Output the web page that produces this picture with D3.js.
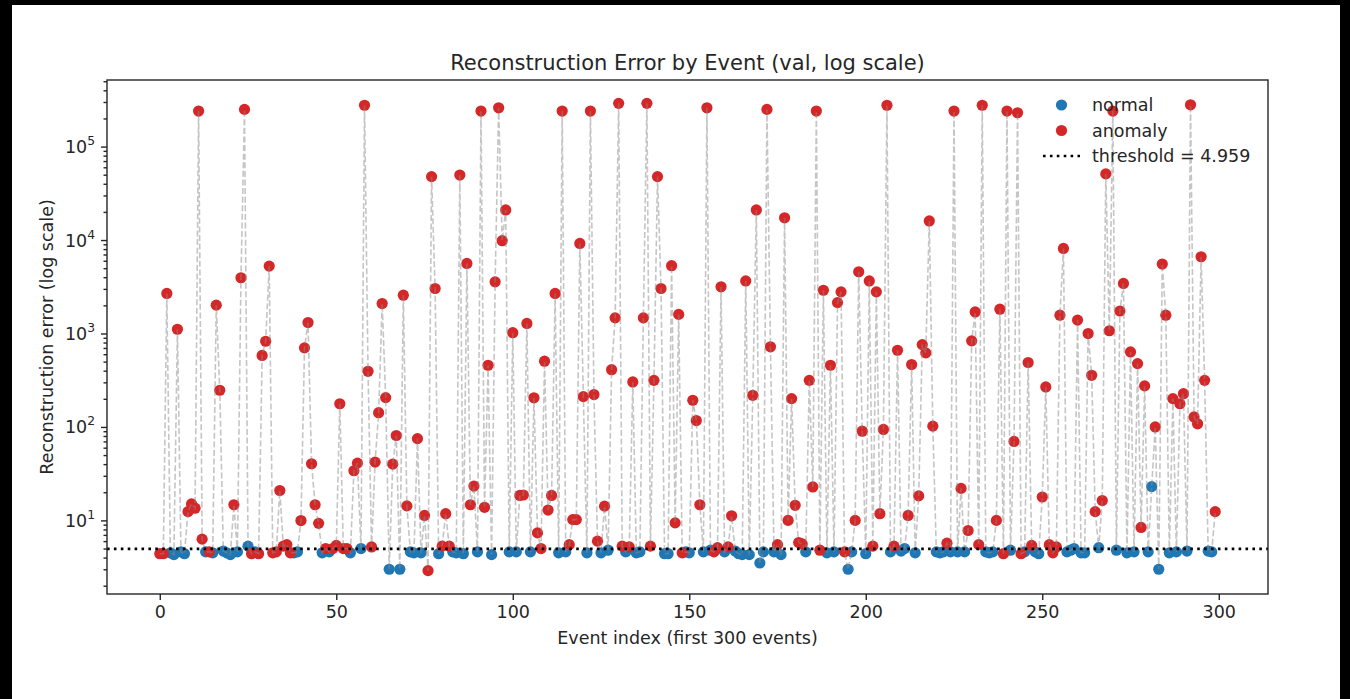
<!DOCTYPE html>
<html>
<head>
<meta charset="utf-8">
<script src="https://cdn.jsdelivr.net/npm/d3@7/dist/d3.min.js"></script>
<style>
    body { margin: 0; background: #000; }
    svg { display: block; }
    text { font-family: "DejaVu Sans", sans-serif; fill: #262626; }
</style>
</head>
<body>
<div id="chart"></div>
<script>
// reconstruction error per event (first 300 events)
var recon_error = [
    4.4, 4.4, 2680, 4.5, 4.3, 1110, 4.6, 4.4, 12.4, 15,
    13.5, 240000, 6.3, 4.6, 4.6, 4.5, 2010, 247, 4.7, 4.5,
    4.3, 14.7, 4.6, 3950, 250000, 5.3, 4.4, 4.6, 4.4, 582,
    826, 5260, 4.5, 4.6, 20.9, 5.3, 5.5, 4.5, 4.5, 4.6,
    9.96, 702, 1310, 40.4, 14.7, 9.3, 4.5, 5.0, 4.6, 5.0,
    5.4, 177, 5.0, 5.0, 4.5, 34, 41, 5.0, 277000, 394,
    5.2, 42, 142, 2090, 206, 3.0, 40, 81, 3.0, 2570,
    14.3, 4.6, 4.5, 75, 4.5, 11.3, 2.9, 47700, 3030, 4.4,
    5.3, 11.8, 5.3, 4.6, 4.5, 49600, 4.4, 5620, 14.7, 23.3,
    4.6, 240000, 13.8, 457, 4.3, 3570, 260000, 9840, 21000, 4.6,
    1020, 4.6, 18.5, 18.7, 1280, 4.6, 205, 7.35, 5.0, 505,
    12.9, 18.5, 2680, 4.5, 240000, 4.6, 5.5, 10.2, 10.2, 9200,
    211, 4.5, 240000, 222, 6.0, 4.5, 14.2, 4.8, 410, 1470,
    290000, 5.3, 4.6, 5.2, 303, 4.5, 4.6, 1470, 290000, 5.3,
    315, 47700, 3030, 4.4, 4.4, 5310, 9.4, 1600, 4.5, 4.6,
    4.5, 193, 117, 14.7, 4.6, 260000, 4.8, 4.6, 5.1, 3160,
    4.6, 5.2, 11.2, 4.7, 4.4, 4.3, 3650, 4.3, 218, 21000,
    3.5, 4.6, 250000, 720, 4.6, 5.5, 4.3, 17300, 10, 201,
    14.5, 5.8, 5.6, 4.6, 315, 22.8, 240000, 4.8, 2900, 4.5,
    457, 4.6, 2140, 2790, 4.6, 3.0, 4.6, 10, 4580, 90,
    4.4, 3650, 5.3, 2790, 11.8, 94, 277000, 4.6, 5.3, 662,
    4.7, 5.0, 11.3, 465, 4.5, 18.3, 760, 620, 16000, 102,
    4.6, 4.5, 4.6, 5.7, 4.6, 240000, 4.6, 22, 4.6, 7.8,
    834, 1700, 5.5, 277000, 4.6, 4.5, 4.6, 10, 1820, 4.4,
    240000, 4.8, 70, 230000, 4.4, 4.6, 489, 5.4, 4.6, 4.4,
    17.8, 268, 5.5, 4.5, 5.2, 1570, 8130, 4.6, 4.8, 5.0,
    1390, 4.5, 4.5, 998, 357, 12.4, 5.1, 16.3, 51000, 1070,
    240000, 4.8, 1740, 3430, 4.5, 635, 4.6, 476, 8.4, 275,
    4.6, 23, 100, 3.0, 5530, 1570, 4.5, 201, 4.6, 177,
    227, 4.7, 280000, 128, 108, 6620, 315, 4.7, 4.6, 12.4
];

// 1 = anomaly (red), 0 = normal (blue)
var is_anomaly = [
    1, 1, 1, 0, 0, 1, 0, 0, 1, 1,
    1, 1, 1, 0, 1, 0, 1, 1, 0, 0,
    0, 1, 0, 1, 1, 0, 1, 0, 1, 1,
    1, 1, 1, 1, 1, 1, 1, 1, 0, 0,
    1, 1, 1, 1, 1, 1, 0, 1, 0, 1,
    1, 1, 1, 1, 0, 1, 1, 0, 1, 1,
    1, 1, 1, 1, 1, 0, 1, 1, 0, 1,
    1, 0, 0, 1, 0, 1, 1, 1, 1, 0,
    1, 1, 1, 0, 0, 1, 0, 1, 1, 1,
    0, 1, 1, 1, 0, 1, 1, 1, 1, 0,
    1, 0, 1, 1, 1, 0, 1, 1, 1, 1,
    1, 1, 1, 0, 1, 0, 1, 1, 1, 1,
    1, 0, 1, 1, 1, 0, 1, 0, 1, 1,
    1, 1, 0, 1, 1, 0, 0, 1, 1, 1,
    1, 1, 1, 0, 0, 1, 1, 1, 1, 0,
    0, 1, 1, 1, 0, 1, 0, 1, 1, 1,
    0, 1, 1, 0, 0, 0, 1, 0, 1, 1,
    0, 0, 1, 1, 0, 1, 0, 1, 1, 1,
    1, 1, 1, 0, 1, 1, 1, 1, 1, 0,
    1, 0, 1, 1, 1, 0, 0, 1, 1, 1,
    0, 1, 1, 1, 1, 1, 1, 0, 1, 1,
    0, 0, 1, 1, 0, 1, 1, 1, 1, 1,
    0, 0, 0, 1, 0, 1, 0, 1, 0, 1,
    1, 1, 1, 1, 0, 0, 0, 1, 1, 1,
    1, 0, 1, 1, 1, 0, 1, 1, 0, 0,
    1, 1, 1, 1, 1, 1, 1, 0, 0, 0,
    1, 0, 0, 1, 1, 1, 0, 1, 1, 1,
    1, 0, 1, 1, 0, 1, 0, 1, 1, 1,
    0, 0, 1, 0, 1, 1, 0, 1, 0, 1,
    1, 0, 1, 1, 1, 1, 1, 0, 0, 1
];

var threshold = 4.959;
var x_ticks = [0, 50, 100, 150, 200, 250, 300];
var y_ticks = [10, 100, 1000, 10000, 100000];
var legend_labels = ["normal", "anomaly", "threshold = 4.959"];

var colors = { normal: "#1f77b4", anomaly: "#d62728" };

var width = 1350;
var height = 699;
var plot = { left: 107, top: 80, right: 1268, bottom: 594 };
var marker_radius = 5.6;

var events = recon_error.map(function (value, index) {
    return { index: index, value: value, anomaly: is_anomaly[index] === 1 };
});

var svg = d3.select("#chart").append("svg")
            .attr("width", width)
            .attr("height", height);

// white figure area inside the black frame of the screenshot
svg.append("rect")
   .attr("x", 12).attr("y", 5)
   .attr("width", 1328).attr("height", height - 5)
   .attr("fill", "#fff");

// matplotlib style 5% margins (log space on y)
var n = recon_error.length;
var x_margin = (n - 1) * 0.05;
var x = d3.scaleLinear()
          .domain([-x_margin, n - 1 + x_margin])
          .range([plot.left, plot.right]);

var log_min = Math.log10(d3.min(recon_error));
var log_max = Math.log10(d3.max(recon_error));
var log_pad = (log_max - log_min) * 0.05;
var y = d3.scaleLog()
          .domain([Math.pow(10, log_min - log_pad), Math.pow(10, log_max + log_pad)])
          .range([plot.bottom, plot.top]);

svg.append("clipPath").attr("id", "plot-clip")
   .append("rect")
   .attr("x", plot.left).attr("y", plot.top)
   .attr("width", plot.right - plot.left)
   .attr("height", plot.bottom - plot.top);

var plot_layer = svg.append("g").attr("clip-path", "url(#plot-clip)");

// scatter (drawn below the line, as in matplotlib zorder)
plot_layer.selectAll("circle.normal")
          .data(events.filter(function (d) { return !d.anomaly; }))
          .enter().append("circle")
          .attr("class", "normal")
          .attr("cx", function (d) { return x(d.index); })
          .attr("cy", function (d) { return y(d.value); })
          .attr("r", marker_radius)
          .attr("fill", colors.normal);

plot_layer.selectAll("circle.anomaly")
          .data(events.filter(function (d) { return d.anomaly; }))
          .enter().append("circle")
          .attr("class", "anomaly")
          .attr("cx", function (d) { return x(d.index); })
          .attr("cy", function (d) { return y(d.value); })
          .attr("r", marker_radius)
          .attr("fill", colors.anomaly);

var line = d3.line()
             .x(function (d) { return x(d.index); })
             .y(function (d) { return y(d.value); });

plot_layer.append("path")
          .datum(events)
          .attr("d", line)
          .attr("fill", "none")
          .attr("stroke", "#8c8c8c")
          .attr("stroke-opacity", 0.5)
          .attr("stroke-width", 1.6)
          .attr("stroke-dasharray", "6,2.6");

plot_layer.append("line")
          .attr("x1", plot.left).attr("x2", plot.right)
          .attr("y1", y(threshold)).attr("y2", y(threshold))
          .attr("stroke", "#000")
          .attr("stroke-width", 2.6)
          .attr("stroke-dasharray", "2.6,4.3");

// axes
var x_axis = d3.axisBottom(x)
               .tickValues(x_ticks)
               .tickSize(6)
               .tickPadding(6)
               .tickFormat(d3.format("d"));

var gx = svg.append("g")
            .attr("transform", "translate(0," + plot.bottom + ")")
            .call(x_axis);

var minor_ticks = [];
for (var p = 0; p <= 5; p++) {
    for (var k = 2; k <= 9; k++) {
        var v = k * Math.pow(10, p);
        if (v >= y.domain()[0] && v <= y.domain()[1]) {
            minor_ticks.push(v);
        }
    }
}

var gy_minor = svg.append("g")
                  .attr("transform", "translate(" + plot.left + ",0)")
                  .call(d3.axisLeft(y).tickValues(minor_ticks).tickSize(3.5).tickFormat(""));

var gy = svg.append("g")
            .attr("transform", "translate(" + plot.left + ",0)")
            .call(d3.axisLeft(y).tickValues(y_ticks).tickSize(6).tickPadding(6).tickFormat(""));

[gx, gy, gy_minor].forEach(function (g) {
    g.select(".domain").remove();
    g.selectAll(".tick line").attr("stroke", "#262626").attr("stroke-width", 1.4);
});

gx.selectAll(".tick text")
  .attr("font-size", 17.5)
  .attr("fill", "#262626")
  .style("font-family", "DejaVu Sans, sans-serif");

// 10^n labels with superscript exponent
gy.selectAll(".tick").each(function (d) {
    var label = d3.select(this).append("text")
                  .attr("x", -12)
                  .attr("y", 6)
                  .attr("text-anchor", "end")
                  .attr("font-size", 17.5);
    label.append("tspan").text("10");
    label.append("tspan")
         .attr("font-size", 12.3)
         .attr("dy", -8)
         .text(Math.round(Math.log10(d)));
});

// spines
svg.append("rect")
   .attr("x", plot.left).attr("y", plot.top)
   .attr("width", plot.right - plot.left)
   .attr("height", plot.bottom - plot.top)
   .attr("fill", "none")
   .attr("stroke", "#262626")
   .attr("stroke-width", 1.4);

// titles
svg.append("text")
   .attr("x", (plot.left + plot.right) / 2)
   .attr("y", 70)
   .attr("text-anchor", "middle")
   .attr("font-size", 21)
   .text("Reconstruction Error by Event (val, log scale)");

svg.append("text")
   .attr("x", (plot.left + plot.right) / 2)
   .attr("y", 644)
   .attr("text-anchor", "middle")
   .attr("font-size", 17.5)
   .text("Event index (first 300 events)");

svg.append("text")
   .attr("transform", "translate(53," + ((plot.top + plot.bottom) / 2) + ") rotate(-90)")
   .attr("text-anchor", "middle")
   .attr("font-size", 17.5)
   .text("Reconstruction error (log scale)");

// legend
var legend = svg.append("g").attr("transform", "translate(1043,105)");
var legend_gap = 25.5;

legend.append("circle").attr("cx", 18.5).attr("cy", 0).attr("r", marker_radius).attr("fill", colors.normal);
legend.append("circle").attr("cx", 18.5).attr("cy", legend_gap).attr("r", marker_radius).attr("fill", colors.anomaly);
legend.append("line")
      .attr("x1", 0).attr("x2", 37)
      .attr("y1", legend_gap * 2).attr("y2", legend_gap * 2)
      .attr("stroke", "#000")
      .attr("stroke-width", 2.6)
      .attr("stroke-dasharray", "2.6,4.3");

legend.selectAll("text.legend-label")
      .data(legend_labels)
      .enter().append("text")
      .attr("class", "legend-label")
      .attr("x", 49)
      .attr("y", function (d, i) { return i * legend_gap + 6; })
      .attr("font-size", 17.5)
      .text(function (d) { return d; });
</script>
</body>
</html>
